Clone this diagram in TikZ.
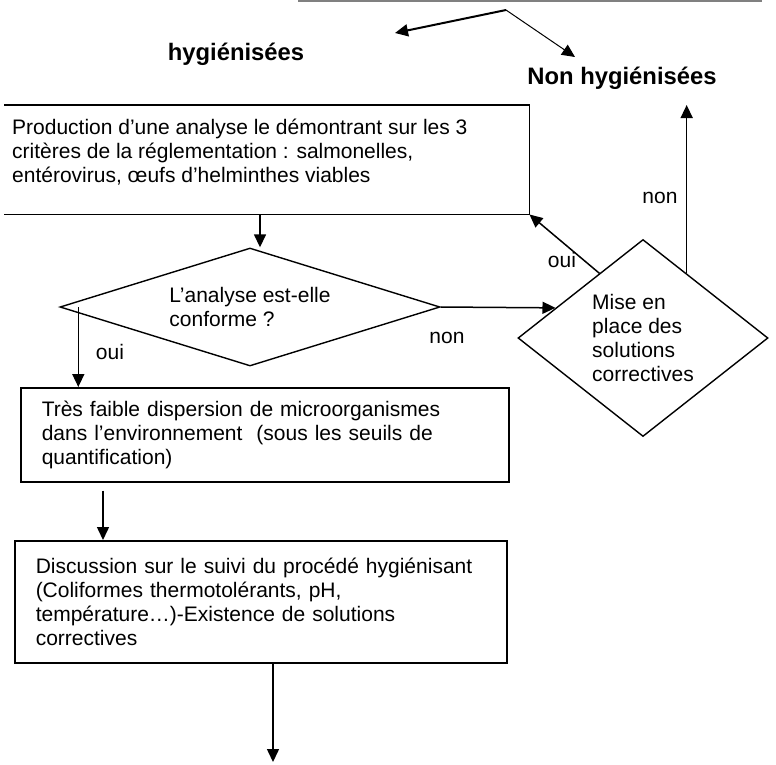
\documentclass[tikz,border=0pt]{standalone}
\usepackage{fontspec}
\setmainfont{Liberation Sans}
\usetikzlibrary{arrows.meta,shapes.geometric}

\tikzset{
  txt/.style={font=\fontsize{21}{24}\selectfont, align=left, inner sep=0pt},
  head/.style={font=\fontsize{23.8}{28}\selectfont\bfseries, inner sep=0pt},
  frame/.style={draw, line width=1.5pt, inner ysep=0pt, inner xsep=21pt},
  cond/.style={diamond, draw, line width=1.4pt, inner sep=0pt, align=left,
    font=\fontsize{21}{24}\selectfont},
  arr/.style={line width=1.5pt, -{Triangle[length=13pt,width=12pt]}},
}

\begin{document}
\begin{tikzpicture}[x=1pt,y=-1pt]
\useasboundingbox (0,0) rectangle (776,764);

% top of the tree
\draw[gray, line width=1.5pt] (298,1) -- (762,1);
\coordinate (split) at (506,10);
\coordinate (tipL) at (395,33);
\coordinate (tipR) at (575,57);
\draw[arr, line width=2pt] (split) -- (tipL);
\draw[arr, line width=1pt] (split) -- (tipR);
\node[head] (hyg) at (236,54) {hygiénisées};
\node[head] (nonhyg) at (622,78) {Non hygiénisées};

% box 1, open on the left
\node[frame, draw=none, minimum width=524pt, minimum height=108pt, anchor=north west] (b1) at (4,105) {};
\node[txt, anchor=west] (b1txt) at (12,152) {Production d’une analyse le démontrant sur les 3\\
  critères de la réglementation : salmonelles,\\
  entérovirus, œufs d’helminthes viables};
\draw[line width=1.5pt] (b1.north west) -- (b1.north east) -- (b1.south east) -- (b1.south west);

% decisions
\node[cond, shape aspect=3.22, minimum width=380pt, minimum height=118pt] (d1) at (250,307) {L’analyse est-elle\\conforme ?};
\node[cond, shape aspect=1.27, minimum width=250pt, minimum height=197pt] (d2) at (643,338) {Mise en\\place des\\solutions\\correctives};

% boxes 2 and 3
\node[frame, txt, inner xsep=21pt, text width=446pt, minimum height=94pt, anchor=north west] (b2) at (20,387)
  {Très faible dispersion de microorganismes\\
   dans l’environnement~ (sous les seuils de\\
   quantification)};
\node[frame, txt, inner xsep=21pt, text width=450pt, minimum height=122pt, anchor=north west] (b3) at (14,540)
  {Discussion sur le suivi du procédé hygiénisant\\
   (Coliformes thermotolérants, pH,\\
   température…)-Existence de solutions\\
   correctives};

% connectors
\coordinate (d1in) at ([xshift=10pt]d1.north);
\draw[arr] (d1in |- b1.south) -- (d1in);
\coordinate (d1oui) at ([xshift=19pt]d1.west);
\draw[arr] (d1oui) -- (d1oui |- b2.north);
\draw[arr] (d1.east) -- (d2.161);
\draw[arr] (d2.124) -- (b1.south east);
\coordinate (upN) at (686,105);
\draw[arr] (d2.56) -- (d2.56 |- upN);
\coordinate (b2out) at ([xshift=83pt]b2.south west);
\draw[arr, shorten <=8pt] (b2out) -- (b2out |- b3.north);
\coordinate (endpt) at (273,762);
\draw[arr] (b3.south -| endpt) -- (endpt);

% labels
\node[txt] (oui1) at (110,352) {oui};
\node[txt] (non1) at (447,338) {non};
\node[txt] (oui2) at (562,260) {oui};
\node[txt] (non2) at (660,198) {non};
\end{tikzpicture}
\end{document}
